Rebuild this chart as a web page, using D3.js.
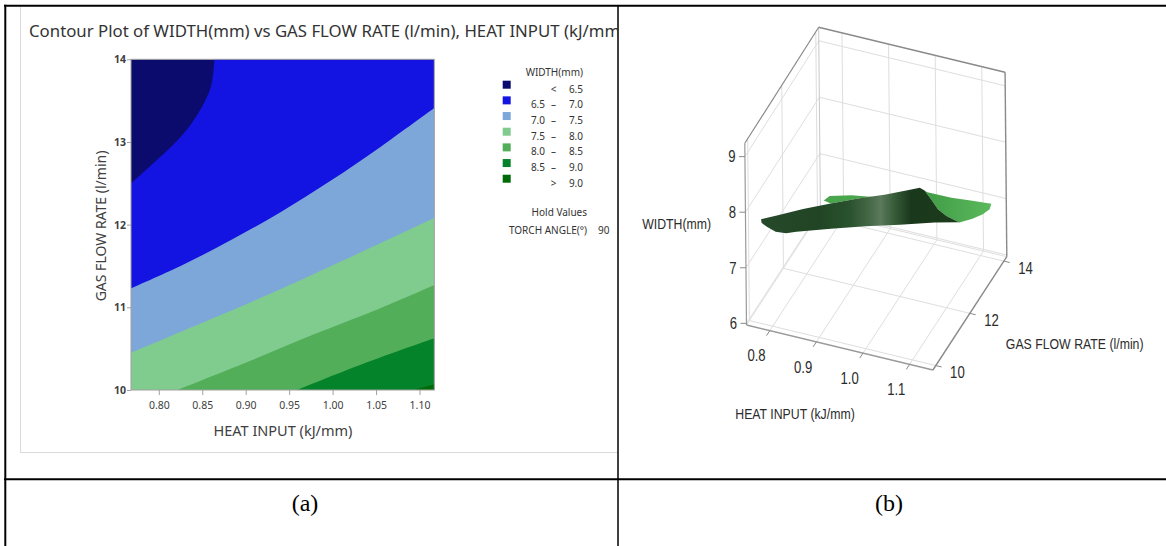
<!DOCTYPE html>
<html><head><meta charset="utf-8">
<script src="https://cdn.jsdelivr.net/npm/d3@7/dist/d3.min.js"></script>
<style>html,body{margin:0;padding:0;background:#fff;} svg{display:block;}</style>
</head><body>
<svg id="chart" width="1166" height="546"></svg>
<script>
// ================= DATA =================
// (a) contour plot
const heatTicks = [0.80, 0.85, 0.90, 0.95, 1.00, 1.05, 1.10];
const gasTicks = [10, 11, 12, 13, 14];
const heatRange = [0.768, 1.117];
const gasRange = [10, 14];
const widthLevels = [6.5, 7.0, 7.5, 8.0, 8.5, 9.0];
const bandColors = ["#0b0b6d", "#1313e2", "#7da7d9", "#80cc8f", "#52ae59", "#05832a", "#016a08"];
const legendLow  = ["", "6.5", "7.0", "7.5", "8.0", "8.5", ""];
const legendSep  = ["<", "–", "–", "–", "–", "–", ">"];
const legendHigh = ["6.5", "7.0", "7.5", "8.0", "8.5", "9.0", "9.0"];
const holdFactor = "TORCH ANGLE(°)";
const holdValue = "90";

// contour boundaries, [heat input, gas flow rate]
const contour65 = [[0.768,12.50],[0.787,12.68],[0.806,12.86],[0.825,13.06],[0.840,13.26],[0.852,13.47],[0.860,13.67],[0.863,13.87],[0.864,14.0]];
const contour70 = [[0.768,11.23],[0.825,11.50],[0.8825,11.81],[0.940,12.15],[0.9976,12.53],[1.055,12.94],[1.117,13.41]];
const contour75 = [[0.768,10.45],[0.863,10.87],[0.940,11.22],[1.017,11.59],[1.117,12.08]];
const contour80 = [[0.821,10.0],[0.902,10.34],[0.978,10.67],[1.055,10.99],[1.117,11.27]];
const contour85 = [[0.959,10.0],[1.036,10.32],[1.117,10.625]];
const contour90 = [[1.093,10.0],[1.117,10.07]];

// (b) surface plot
const heat3dTicks = [0.8, 0.9, 1.0, 1.1];
const gas3dTicks = [10, 12, 14];
const width3dTicks = [6, 7, 8, 9];
const heat3dRange = [0.75, 1.15];
const gas3dRange = [9.83, 14.17];
const width3dRange = [5.97, 9.24];
// visible surface profile, [heat input, gas flow rate, width]
const surfaceDark = [[0.7744,10.07,7.81],[0.8015,10.38,7.79],[0.838,10.80,7.775],[0.8798,11.28,7.73],[0.9214,11.75,7.68],[0.9632,12.23,7.61],[0.9997,12.65,7.57],[1.0144,12.82,7.555],[1.0216,12.90,7.48],[1.031,13.01,7.30],[1.0415,13.13,7.08],[1.0545,13.27,6.92],[1.0701,13.45,6.775],[1.0753,13.51,6.74],[1.0362,13.07,6.86],[0.984,12.47,7.00],[0.9319,11.87,7.15],[0.8798,11.28,7.275],[0.8276,10.68,7.40],[0.812,10.50,7.43],[0.7963,10.32,7.51],[0.7832,10.17,7.645],[0.7754,10.08,7.74]];
const surfaceLightRight = [[1.0258,12.95,7.435],[1.0623,13.36,7.22],[1.0936,13.72,7.06],[1.1223,14.05,6.91],[1.1196,14.02,6.82],[1.1093,13.90,6.765],[1.0936,13.72,6.74],[1.0753,13.51,6.74],[1.0701,13.45,6.775],[1.0545,13.27,6.92],[1.0415,13.13,7.08],[1.031,13.01,7.30],[1.0216,12.90,7.48]];
const surfaceLightBack = [[0.8692,11.16,7.82],[0.8782,11.26,7.87],[0.9111,11.64,7.77],[0.944,12.01,7.63],[0.9214,11.75,7.68],[0.8798,11.28,7.73]];

// ================= DRAWING =================
const svg = d3.select("#chart");
const defs = svg.append("defs");
const sans = "'Noto Sans','Open Sans',sans-serif";

defs.append("clipPath").attr("id","clipA").append("rect").attr("x",6.3).attr("y",6.7).attr("width",611).attr("height",471.5);
defs.append("clipPath").attr("id","clipPlot").append("rect").attr("x",131).attr("y",59.3).attr("width",303.3).attr("height",330.7);

// ---------- Panel (a) ----------
const gA = svg.append("g").attr("clip-path","url(#clipA)");
gA.append("rect").attr("x",20.5).attr("y",-5).attr("width",700).attr("height",457.5)
  .attr("fill","#fff").attr("stroke","#d9d9d9").attr("stroke-width",1);

const title = gA.append("text").attr("x",29).attr("y",37)
  .style("font-family",sans).style("font-size","16px").attr("fill","#333")
  .text("Contour Plot of WIDTH(mm) vs GAS FLOW RATE (l/min), HEAT INPUT (kJ/mm)");
{
  const n = title.node(); const s = n.textContent; const k = s.indexOf("(kJ/mm") + 5;
  const L = n.getSubStringLength(0, k);
  title.style("font-size", (16 * 576 / L) + "px");
}

const xS = d3.scaleLinear().domain(heatRange).range([131, 434.3]);
const yS = d3.scaleLinear().domain(gasRange).range([390, 59.3]);
const curveGen = d3.line().x(d => xS(d[0])).y(d => yS(d[1])).curve(d3.curveCatmullRom.alpha(0.5));
function regionPath(pts) {
  const start = pts[0], end = pts[pts.length - 1];
  let p = curveGen(pts);
  if (Math.abs(end[1] - gasRange[1]) < 0.01) p += `L${xS(heatRange[1])},${yS(gasRange[1])}`;
  p += `L${xS(heatRange[1])},${yS(gasRange[0])}`;
  if (Math.abs(start[0] - heatRange[0]) < 0.01) p += `L${xS(heatRange[0])},${yS(gasRange[0])}`;
  return p + "Z";
}
const plot = gA.append("g").attr("clip-path","url(#clipPlot)");
plot.append("rect").attr("x",xS(heatRange[0])).attr("y",yS(gasRange[1]))
  .attr("width",xS(heatRange[1])-xS(heatRange[0])).attr("height",yS(gasRange[0])-yS(gasRange[1]))
  .attr("fill",bandColors[0]);
const boundaries = [contour65, contour70, contour75, contour80, contour85, contour90];
plot.selectAll("path.band").data(boundaries).join("path").attr("class","band")
  .attr("d", regionPath).attr("fill", (d,i) => bandColors[i+1]);

gA.append("rect").attr("x",131).attr("y",59.3).attr("width",303.3).attr("height",330.7)
  .attr("fill","none").attr("stroke","#a0a0a0").attr("stroke-width",1);

const xAx = gA.append("g").attr("transform","translate(0,390)")
  .call(d3.axisBottom(xS).tickValues(heatTicks).tickFormat(d3.format(".2f")).tickSize(5).tickSizeOuter(0).tickPadding(7));
xAx.select(".domain").remove();
xAx.selectAll("line").attr("stroke","#a0a0a0");
xAx.selectAll("text").style("font-family",sans).style("font-size","10.5px").attr("fill","#404040");

const yAx = gA.append("g").attr("transform","translate(131,0)")
  .call(d3.axisLeft(yS).tickValues(gasTicks).tickFormat(d3.format("d")).tickSize(4).tickSizeOuter(0).tickPadding(1));
yAx.select(".domain").remove();
yAx.selectAll("line").attr("stroke","#a0a0a0");
yAx.selectAll("text").style("font-family",sans).style("font-size","10.5px").style("font-weight","700").attr("fill","#404040");

gA.append("text").attr("x",283).attr("y",436).attr("text-anchor","middle")
  .style("font-family",sans).style("font-size","14.5px").attr("fill","#404040").text("HEAT INPUT (kJ/mm)");
gA.append("text").attr("transform","translate(106,226) rotate(-90)").attr("text-anchor","middle")
  .style("font-family",sans).style("font-size","14px").attr("fill","#404040").text("GAS FLOW RATE (l/min)");

// legend
const lg = gA.append("g").style("font-family",sans).style("font-size","10px").attr("fill","#333");
lg.append("text").attr("x",583).attr("y",76).attr("text-anchor","end").text("WIDTH(mm)");
const rows = lg.selectAll("g.row").data(bandColors).join("g").attr("class","row")
  .attr("transform",(d,i)=>`translate(0,${89.3 + 15.67*i})`);
rows.append("rect").attr("x",502.7).attr("y",-8.6).attr("width",8).attr("height",8).attr("fill",d=>d);
rows.append("text").attr("x",545).attr("y",3.5).attr("text-anchor","end").text((d,i)=>legendLow[i]);
rows.append("text").attr("x",553.5).attr("y",3.5).attr("text-anchor","middle").text((d,i)=>legendSep[i]);
rows.append("text").attr("x",583).attr("y",3.5).attr("text-anchor","end").text((d,i)=>legendHigh[i]);
lg.append("text").attr("x",587).attr("y",216).attr("text-anchor","end").text("Hold Values");
lg.append("text").attr("x",587).attr("y",233.5).attr("text-anchor","end").text(holdFactor);
lg.append("text").attr("x",609.5).attr("y",233.5).attr("text-anchor","end").text(holdValue);

// ---------- Panel (b) ----------
const gB = svg.append("g");
const u3 = d3.scaleLinear().domain(heat3dRange).range([0,1]);
const v3 = d3.scaleLinear().domain(gas3dRange).range([0,1]);
const w3 = d3.scaleLinear().domain(width3dRange).range([0,1]);
const O = [746.5, 325], EX = [186.4, 45], EY = [73.9, -113.3], EZ = [-1.7, -181.7];
const P = (h, g, z) => { const a = u3(h), b = v3(g), c = w3(z) * (1 + 0.015 * v3(g));
  return [O[0] + a*EX[0] + b*EY[0] + c*EZ[0], O[1] + a*EX[1] + b*EY[1] + c*EZ[1]]; };
const [h0, h1] = heat3dRange, [g0, g1] = gas3dRange, [z0, z1] = width3dRange;
const seg = (a, b, color, w) => gB.append("line").attr("x1",a[0]).attr("y1",a[1]).attr("x2",b[0]).attr("y2",b[1])
  .attr("stroke",color).attr("stroke-width",w);
const gridC = "#dedede";
// floor
heat3dTicks.forEach(h => seg(P(h,g0,z0), P(h,g1,z0), gridC, 1));
gas3dTicks.forEach(g => seg(P(h0,g,z0), P(h1,g,z0), gridC, 1));
// left wall
gas3dTicks.forEach(g => seg(P(h0,g,z0), P(h0,g,z1), gridC, 1));
width3dTicks.forEach(z => seg(P(h0,g0,z), P(h0,g1,z), gridC, 1));
// back wall
heat3dTicks.forEach(h => seg(P(h,g1,z0), P(h,g1,z1), gridC, 1));
width3dTicks.forEach(z => seg(P(h0,g1,z), P(h1,g1,z), gridC, 1));
// box edges
const edgeC = "#8a8a8a";
seg(P(h0,g0,z0), P(h0,g1,z0), gridC, 1);
seg(P(h0,g1,z0), P(h1,g1,z0), gridC, 1);
seg(P(h0,g1,z0), P(h0,g1,z1), "#c8c8c8", 1);
seg(P(h0,g0,z1), P(h0,g1,z1), edgeC, 1.2);
seg(P(h0,g1,z1), P(h1,g1,z1), edgeC, 1.4);
seg(P(h1,g1,z1), P(h1,g1,z0), edgeC, 1.4);
seg(P(h0,g0,z0), P(h0,g0,z1), "#9a9a9a", 1.2);
seg(P(h0,g0,z0), P(h1,g0,z0), "#9a9a9a", 1.4);
seg(P(h1,g0,z0), P(h1,g1,z0), "#8a8a8a", 1.4);

// ticks + labels
const f3 = "'Liberation Sans','Arial',sans-serif";
const txt = (x, y, s, size) => gB.append("text").attr("transform",`translate(${x},${y}) scale(0.82,1)`)
  .attr("text-anchor","middle").attr("dy","0.36em").style("font-family",f3).style("font-size",size+"px")
  .attr("fill","#2b2b2b").text(s);
const nEY = Math.hypot(EY[0],EY[1]), nEX = Math.hypot(EX[0],EX[1]);
heat3dTicks.forEach(h => { const p = P(h,g0,z0);
  seg(p, [p[0]-6*EY[0]/nEY, p[1]-6*EY[1]/nEY], "#8a8a8a", 1);
  txt(p[0]-13.3, p[1]+25, d3.format(".1f")(h), 16); });
gas3dTicks.forEach(g => { const p = P(h1,g,z0);
  seg(p, [p[0]+6*EX[0]/nEX, p[1]+6*EX[1]/nEX], "#8a8a8a", 1);
  txt(p[0]+21.6, p[1]+6.7, String(g), 16); });
width3dTicks.forEach(z => { const p = P(h0,g0,z);
  seg(p, [p[0]-6, p[1]], "#8a8a8a", 1);
  txt(p[0]-13, p[1], String(z), 16); });
txt(676.6, 224, "WIDTH(mm)", 15);
txt(795, 413.3, "HEAT INPUT (kJ/mm)", 15);
txt(1074.7, 343.3, "GAS FLOW RATE (l/min)", 15);

// surface
const darkGrad = defs.append("linearGradient").attr("id","darkGrad").attr("gradientUnits","userSpaceOnUse")
  .attr("x1",758).attr("x2",962).attr("y1",0).attr("y2",0);
[[0,"#25492a"],[0.3,"#214524"],[0.45,"#2a522d"],[0.54,"#446745"],[0.6,"#5a7a5b"],[0.67,"#375b38"],[0.75,"#1a381b"],[1,"#1c3c1d"]]
  .forEach(s => darkGrad.append("stop").attr("offset",s[0]).attr("stop-color",s[1]));
const lightGrad = defs.append("linearGradient").attr("id","lightGrad").attr("gradientUnits","userSpaceOnUse")
  .attr("x1",920).attr("x2",992).attr("y1",0).attr("y2",0);
[[0,"#3f9a44"],[1,"#5bb95c"]].forEach(s => lightGrad.append("stop").attr("offset",s[0]).attr("stop-color",s[1]));
const surfLine = d3.line().x(d => P(d[0],d[1],d[2])[0]).y(d => P(d[0],d[1],d[2])[1]).curve(d3.curveLinearClosed);
gB.append("path").attr("d", surfLine(surfaceLightBack)).attr("fill","#4aa64c");
gB.append("path").attr("d", surfLine(surfaceLightRight)).attr("fill","url(#lightGrad)");
gB.append("path").attr("d", surfLine(surfaceDark)).attr("fill","url(#darkGrad)");

// ---------- table lines & captions ----------
const tl = (x1,y1,x2,y2,w) => svg.append("line").attr("x1",x1).attr("y1",y1).attr("x2",x2).attr("y2",y2)
  .attr("stroke","#000").attr("stroke-width",w);
tl(4, 5.8, 1166, 5.8, 2);
tl(5.3, 4.8, 5.3, 546, 2);
tl(618, 5, 618, 546, 1.5);
tl(4, 479.3, 1166, 479.3, 2);
const cap = (x, s) => svg.append("text").attr("x",x).attr("y",511).attr("text-anchor","middle")
  .style("font-family","'Liberation Serif','Times New Roman',serif").style("font-size","24px").attr("fill","#000").text(s);
cap(305, "(a)");
cap(889, "(b)");
</script>
</body></html>
